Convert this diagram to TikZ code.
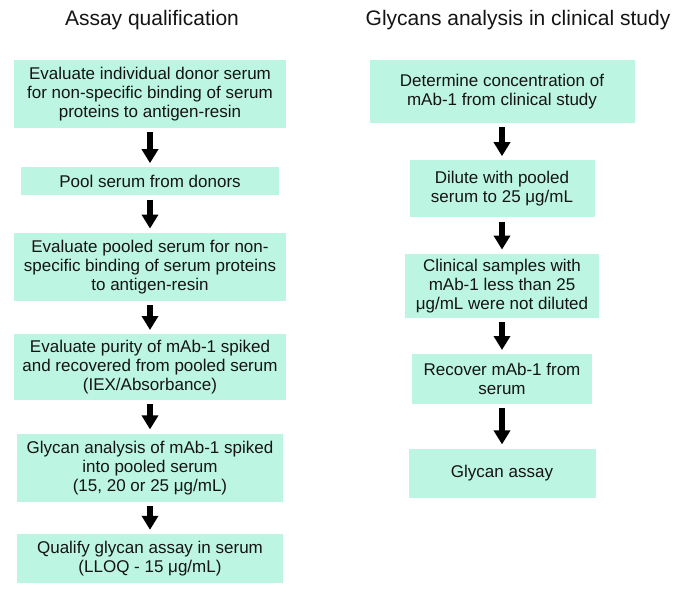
\documentclass[tikz,border=0pt]{standalone}
\usepackage{fontspec}
\setmainfont{Liberation Sans}
\usepackage{tikz}
\usetikzlibrary{arrows.meta,positioning}
\definecolor{Mint}{HTML}{BDF5E3}
\definecolor{Ink}{HTML}{141414}

\begin{document}
\begin{tikzpicture}[x=1pt,y=1pt,
  stepbox/.style={fill=Mint,draw=none,align=center,inner sep=2pt,text=Ink,font=\fontsize{17}{19}\selectfont},
  heading/.style={text=Ink,font=\fontsize{21}{24}\selectfont},
  arrow/.style={-{Triangle[length=14pt,width=16pt]},line width=5.5pt,draw=black,shorten <=4pt,shorten >=4pt}
]
\useasboundingbox (0,0) rectangle (687,-594);
% column titles
\node[heading] (tl) at (152,-20) {Assay qualification};
\node[heading] (tr) at (518,-20) {Glycans analysis in clinical study};
% assay qualification
\node[stepbox,minimum width=272pt,minimum height=68pt] (l1) at (150,-94) {Evaluate individual donor serum\\for non-specific binding of serum\\proteins to antigen-resin};
\node[stepbox,minimum width=258pt,minimum height=28pt,below=39pt of l1] (l2) {Pool serum from donors};
\node[stepbox,minimum width=272pt,minimum height=68pt,below=37pt of l2] (l3) {Evaluate pooled serum for non-\\specific binding of serum proteins\\to antigen-resin};
\node[stepbox,minimum width=272pt,minimum height=66pt,below=33pt of l3] (l4) {Evaluate purity of mAb-1 spiked\\and recovered from pooled serum\\(IEX/Absorbance)};
\node[stepbox,minimum width=266pt,minimum height=68pt,below=33pt of l4] (l5) {Glycan analysis of mAb-1 spiked\\into pooled serum\\(15, 20 or 25 μg/mL)};
\node[stepbox,minimum width=266pt,minimum height=49pt,below=32pt of l5] (l6) {Qualify glycan assay in serum\\(LLOQ - 15 μg/mL)};
% clinical study
\node[stepbox,minimum width=265pt,minimum height=63pt] (r1) at (502,-91.5) {Determine concentration of\\mAb-1 from clinical study};
\node[stepbox,minimum width=185pt,minimum height=57pt,below=37pt of r1] (r2) {Dilute with pooled\\serum to 25 μg/mL};
\node[stepbox,minimum width=194pt,minimum height=64pt,below=36pt of r2] (r3) {Clinical samples with\\mAb-1 less than 25\\μg/mL were not diluted};
\node[stepbox,minimum width=180pt,minimum height=50pt,below=36pt of r3] (r4) {Recover mAb-1 from\\serum};
\node[stepbox,minimum width=187pt,minimum height=49pt,below=44pt of r4] (r5) {Glycan assay};
% arrows
\draw[arrow] (l1) -- (l2);
\draw[arrow] (l2) -- (l3);
\draw[arrow] (l3) -- (l4);
\draw[arrow] (l4) -- (l5);
\draw[arrow] (l5) -- (l6);
\draw[arrow] (r1) -- (r2);
\draw[arrow] (r2) -- (r3);
\draw[arrow] (r3) -- (r4);
\draw[arrow] (r4) -- (r5);
\end{tikzpicture}
\end{document}
